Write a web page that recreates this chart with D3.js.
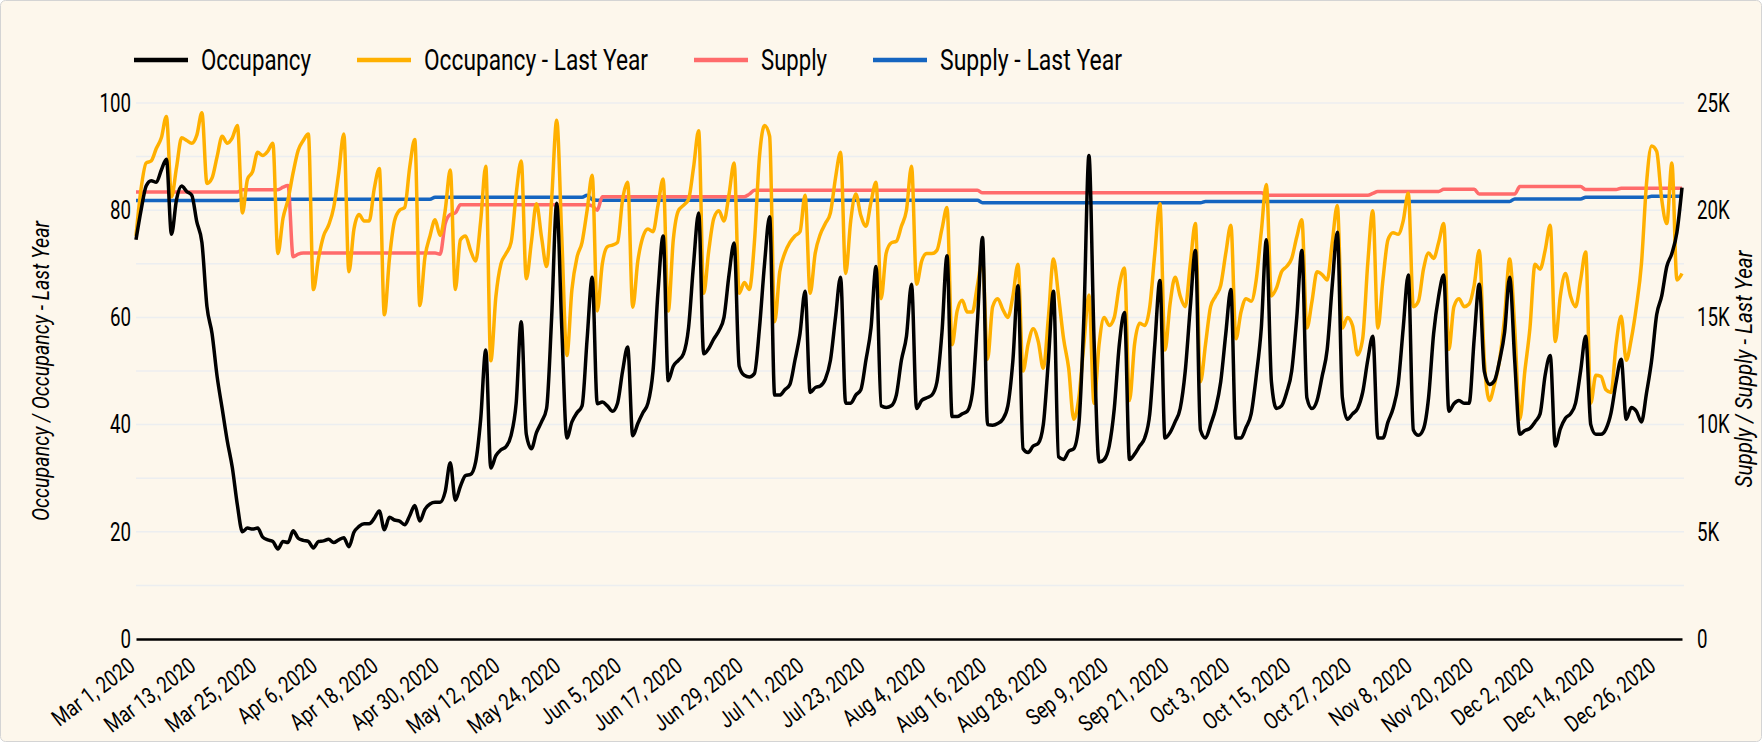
<!DOCTYPE html>
<html>
<head>
<meta charset="utf-8">
<script src="https://cdn.jsdelivr.net/npm/d3@7"></script>
<style>
  body { margin: 0; background: #ffffff; }
  #chart text {
    font-family: Roboto, "Noto Sans", sans-serif;
    fill: #000000;
  }
</style>
</head>
<body>
<div id="chart"></div>
<script>
// Daily values, starting Mar 1, 2020
const startDate = new Date(2020, 2, 1);

// Occupancy (%)
const occupancy = [
  74.5, 80, 84.5, 85.5, 85.2, 87.5, 89.5, 75.5, 82, 84.5,
  83.5, 82.8, 77.8, 74, 62, 57, 49, 43, 37, 32,
  25, 20, 20.7, 20.5, 20.7, 19, 18.5, 18.2, 16.8, 18.2,
  18, 20.2, 18.8, 18.4, 18.2, 17, 18.2, 18.3, 18.6, 18,
  18.5, 18.9, 17.2, 19.9, 21, 21.5, 21.5, 22.5, 23.9, 20.4,
  22.7, 22.2, 22, 21.3, 23, 24.9, 22, 24.2, 25.2, 25.5,
  25.5, 27.5, 32.9, 25.9, 28.5, 30.5, 30.7, 33, 41, 53.9,
  31.9, 34.2, 35.3, 35.9, 38, 44, 59.2, 38.2, 35.5, 38.5,
  40.5, 43, 60, 81.3, 58, 37.5, 40.5, 42.2, 43.5, 56,
  67.5, 43.9, 44.2, 43.5, 42.5, 44, 50, 54.5, 37.9, 40.2,
  42.2, 44, 50, 65, 75.2, 48.2, 50.9, 52, 53.2, 58,
  70, 79.5, 53.2, 54.2, 56, 57.5, 60, 68, 73.9, 50.9,
  49.2, 48.9, 49.5, 58, 70, 78.8, 45.5, 45.5, 46.5, 47.5,
  52, 57, 64.9, 46, 46.9, 47.2, 48.5, 52, 60, 67.5,
  44, 44, 45.5, 46.5, 52, 58, 69.5, 43.5, 43.2, 43.5,
  45.5, 52, 56.5, 66.2, 43, 44.5, 45, 45.5, 47.9, 57.2,
  71.5, 41.5, 41.5, 42, 42.5, 45.9, 59.2, 74.9, 40, 39.9,
  40.2, 41, 43.5, 52, 65.9, 35.5, 34.8, 36, 36.5, 40,
  52, 64.9, 34, 33.5, 35, 35.5, 40, 60, 90.2, 56,
  33, 33.5, 36, 43, 55, 60.9, 33.5, 34.5, 36, 37.5,
  42, 55, 66.9, 37.5, 38.5, 40.5, 43, 50, 62, 72.5,
  39, 37.5, 40, 43, 48, 57, 65.2, 37.5, 37.5, 39.5,
  42, 49, 58, 74.5, 48, 43, 43.5, 46, 50, 60,
  72.5, 45, 43, 44.5, 49, 54, 66, 75.9, 45, 41,
  42, 43, 46, 52, 56.5, 37.5, 37.5, 40.5, 43, 47.5,
  58, 67.9, 39, 38, 39.2, 45, 57, 64, 67.9, 42.5,
  43.9, 44.5, 44, 44, 56, 66.2, 49.9, 47.5, 48.2, 51.9,
  57.2, 67.5, 51.9, 38.2, 38.9, 39.3, 40.5, 42, 49.2, 52.9,
  36, 39.2, 41.2, 42, 44, 50, 56.5, 40, 38.2, 38.2,
  39.2, 42.2, 47.9, 52.2, 41, 43.2, 42.5, 40.5, 45.9, 51.9,
  60.5, 64, 69.5, 71.9, 75.9, 84.2
];

// Occupancy - Last Year (%)
const occupancyLastYear = [
  75.2, 84, 88.8, 89.2, 91.5, 93.5, 97.5, 82.5, 88, 93.5,
  93, 92.5, 94, 98.2, 85, 86, 90, 93.8, 92.5, 93.5,
  95.8, 79.5, 85.8, 87.2, 90.8, 90.2, 91, 92.5, 71.9, 78.5,
  82, 87, 91.2, 93, 94.2, 65.2, 71, 75.2, 77.2, 80.5,
  87, 94.2, 68.5, 76.5, 79.2, 78, 78, 84, 87.8, 60.5,
  71, 78, 80, 80.5, 88, 93.2, 62.2, 71.2, 75.2, 78.2,
  75.3, 80, 87.5, 65.2, 74.5, 75.2, 72.5, 70.5, 78, 88.2,
  51.9, 63.9, 70, 71.9, 74, 83, 89.2, 67.2, 74, 81.2,
  75, 69.5, 82, 96.8, 75, 52.9, 65.2, 71.2, 74, 80,
  86.5, 61.2, 70, 73.2, 73.5, 74, 82, 85.2, 61.9, 70.5,
  75, 76.5, 76, 81, 85.8, 61.2, 74.5, 79.9, 80.9, 82,
  88, 94.8, 64.5, 72.5, 78.5, 79.9, 78, 83, 88.8, 64.5,
  66.5, 65.2, 74, 90, 95.8, 93.8, 59.2, 68.5, 72, 74,
  75.2, 76, 82.8, 64.5, 72, 75.5, 77.5, 79.5, 86, 90.8,
  68.2, 78, 83, 79, 77, 81.5, 85.2, 63.5, 72, 73.9,
  74.2, 77, 80, 88.2, 66.2, 70.5, 71.9, 71.9, 72.5, 76.5,
  80.5, 54.9, 61.2, 63.2, 61, 61, 66, 70.8, 52.2, 62,
  63.5, 61.5, 60, 64, 69.9, 50, 55, 57.9, 55.5, 50.5,
  60, 70.9, 64, 56, 50.5, 41, 45, 55, 64.2, 44,
  55, 60, 58.5, 60, 66, 69.2, 44.5, 55, 58.9, 58.5,
  62, 72, 81.2, 53.9, 62.5, 67.5, 64, 62, 70, 77.5,
  48, 55, 62, 64, 66, 72, 77.2, 56, 61, 63.5,
  63, 67, 76, 84.8, 64, 65.5, 68.5, 69.5, 71, 75,
  78.2, 58, 63, 68.5, 68, 67, 74, 80.9, 58, 60,
  58.5, 53, 56, 70, 79.9, 58, 67, 74.5, 75.8, 75.5,
  78, 83.2, 62, 63, 69, 72, 71, 74, 77.5, 54,
  62, 63.5, 62, 62.5, 66, 72.5, 52, 44.5, 47.5, 52,
  60, 70.9, 58, 41, 50, 58, 69.9, 69, 72.5, 77.2,
  55.5, 64, 68.2, 64, 62, 67, 72.2, 44, 49.2, 49,
  46.5, 46, 55, 60.2, 52, 56, 62, 70, 85, 92,
  91, 82, 77.5, 88.8, 67, 68.2
];

// Supply (rooms)
const supply = [
  20850, 20850, 20850, 20850, 20850, 20850, 20850, 20850, 20850, 20850,
  20850, 20850, 20850, 20850, 20850, 20850, 20850, 20850, 20850, 20850,
  20850, 20950, 20950, 20950, 20950, 20950, 20950, 20950, 20950, 21075,
  21150, 17825, 17950, 18000, 18000, 18000, 18000, 18000, 18000, 18000,
  18000, 18000, 18000, 18000, 18000, 18000, 18000, 18000, 18000, 18000,
  18000, 18000, 18000, 18000, 18000, 18000, 18000, 18000, 18000, 18000,
  17950, 19375, 19800, 19875, 20250, 20250, 20250, 20250, 20250, 20250,
  20250, 20250, 20250, 20250, 20250, 20250, 20250, 20250, 20250, 20250,
  20250, 20250, 20250, 20250, 20250, 20250, 20250, 20250, 20250, 20250,
  20200, 20000, 20625, 20625, 20625, 20625, 20625, 20625, 20625, 20625,
  20625, 20625, 20625, 20625, 20625, 20625, 20625, 20625, 20625, 20625,
  20625, 20625, 20625, 20625, 20625, 20625, 20625, 20625, 20625, 20625,
  20625, 20750, 20925, 20925, 20925, 20925, 20925, 20925, 20925, 20925,
  20925, 20925, 20925, 20925, 20925, 20925, 20925, 20925, 20925, 20925,
  20925, 20925, 20925, 20925, 20925, 20925, 20925, 20925, 20925, 20925,
  20925, 20925, 20925, 20925, 20925, 20925, 20925, 20925, 20925, 20925,
  20925, 20925, 20925, 20925, 20925, 20925, 20925, 20810, 20810, 20810,
  20810, 20810, 20810, 20810, 20810, 20810, 20810, 20810, 20810, 20810,
  20810, 20810, 20810, 20810, 20810, 20810, 20810, 20810, 20810, 20810,
  20810, 20810, 20810, 20810, 20810, 20810, 20810, 20810, 20810, 20810,
  20810, 20810, 20810, 20810, 20810, 20810, 20810, 20810, 20810, 20810,
  20810, 20810, 20810, 20810, 20810, 20810, 20810, 20810, 20810, 20810,
  20810, 20810, 20810, 20700, 20700, 20700, 20700, 20700, 20700, 20700,
  20700, 20700, 20700, 20700, 20700, 20700, 20700, 20700, 20700, 20700,
  20700, 20700, 20700, 20700, 20780, 20875, 20875, 20875, 20875, 20875,
  20875, 20875, 20875, 20875, 20875, 20875, 20875, 20875, 20975, 20975,
  20975, 20975, 20975, 20975, 20975, 20750, 20750, 20750, 20750, 20750,
  20750, 20750, 20750, 21100, 21100, 21100, 21100, 21100, 21100, 21100,
  21100, 21100, 21100, 21100, 21100, 21100, 20960, 20960, 20960, 20960,
  20960, 20960, 20960, 21025, 21025, 21025, 21025, 21025, 21025, 21025,
  21025, 21025, 21025, 21025, 21025, 21025
];

// Supply - Last Year (rooms)
const supplyLastYear = [
  20450, 20450, 20450, 20450, 20450, 20450, 20450, 20450, 20450, 20450,
  20450, 20450, 20450, 20450, 20450, 20450, 20450, 20450, 20450, 20450,
  20450, 20510, 20510, 20510, 20510, 20510, 20510, 20510, 20510, 20510,
  20510, 20510, 20510, 20510, 20510, 20510, 20510, 20510, 20510, 20510,
  20510, 20510, 20510, 20510, 20510, 20510, 20510, 20510, 20510, 20510,
  20510, 20510, 20510, 20510, 20510, 20510, 20510, 20510, 20510, 20600,
  20600, 20600, 20600, 20600, 20600, 20600, 20600, 20600, 20600, 20600,
  20600, 20600, 20600, 20600, 20600, 20600, 20600, 20600, 20600, 20600,
  20600, 20600, 20600, 20600, 20600, 20600, 20600, 20600, 20600, 20700,
  20500, 20460, 20460, 20460, 20460, 20460, 20460, 20460, 20460, 20460,
  20460, 20460, 20460, 20460, 20460, 20460, 20460, 20460, 20460, 20460,
  20460, 20460, 20460, 20460, 20460, 20460, 20460, 20460, 20460, 20460,
  20460, 20460, 20460, 20460, 20460, 20460, 20460, 20460, 20460, 20460,
  20460, 20460, 20460, 20460, 20460, 20460, 20460, 20460, 20460, 20460,
  20460, 20460, 20460, 20460, 20460, 20460, 20460, 20460, 20460, 20460,
  20460, 20460, 20460, 20460, 20460, 20460, 20460, 20460, 20460, 20460,
  20460, 20460, 20460, 20460, 20460, 20460, 20460, 20350, 20350, 20350,
  20350, 20350, 20350, 20350, 20350, 20350, 20350, 20350, 20350, 20350,
  20350, 20350, 20350, 20350, 20350, 20350, 20350, 20350, 20350, 20350,
  20350, 20350, 20350, 20350, 20350, 20350, 20350, 20350, 20350, 20350,
  20350, 20350, 20350, 20350, 20350, 20350, 20350, 20350, 20350, 20350,
  20350, 20410, 20410, 20410, 20410, 20410, 20410, 20410, 20410, 20410,
  20410, 20410, 20410, 20410, 20410, 20410, 20410, 20410, 20410, 20410,
  20410, 20410, 20410, 20410, 20410, 20410, 20410, 20410, 20410, 20410,
  20410, 20410, 20410, 20410, 20410, 20410, 20410, 20410, 20410, 20410,
  20410, 20410, 20410, 20410, 20410, 20410, 20410, 20410, 20410, 20410,
  20410, 20410, 20410, 20410, 20410, 20410, 20410, 20410, 20410, 20410,
  20410, 20410, 20525, 20525, 20525, 20525, 20525, 20525, 20525, 20525,
  20525, 20525, 20525, 20525, 20525, 20525, 20600, 20600, 20600, 20600,
  20600, 20600, 20600, 20600, 20600, 20600, 20600, 20600, 20600, 20650,
  20650, 20650, 20650, 20650, 20650, 20650
];

// Axis tick labels
const xTickLabels = [
  "Mar 1, 2020", "Mar 13, 2020", "Mar 25, 2020", "Apr 6, 2020", "Apr 18, 2020",
  "Apr 30, 2020", "May 12, 2020", "May 24, 2020", "Jun 5, 2020", "Jun 17, 2020",
  "Jun 29, 2020", "Jul 11, 2020", "Jul 23, 2020", "Aug 4, 2020", "Aug 16, 2020",
  "Aug 28, 2020", "Sep 9, 2020", "Sep 21, 2020", "Oct 3, 2020", "Oct 15, 2020",
  "Oct 27, 2020", "Nov 8, 2020", "Nov 20, 2020", "Dec 2, 2020", "Dec 14, 2020",
  "Dec 26, 2020"
];
const leftTicks = [0, 20, 40, 60, 80, 100];
const rightTicks = [0, 5000, 10000, 15000, 20000, 25000];

// Colours
const BACKGROUND = "#fdf7ec";
const GRID_COLOUR = "#eceef0";
// Narrow the installed font towards the condensed face of the original
const SQUEEZE = 0.72;

/**
 * @function getChart
 * @description Daily occupancy and supply against last year
 */
function getChart() {
  const width = 1762;
  const height = 742;
  const margin = { top: 103, right: 78, bottom: 103, left: 136 };
  const plotRight = width - margin.right;
  const plotBottom = height - margin.bottom;

  const dates = occupancy.map((d, i) => d3.timeDay.offset(startDate, i));
  const parseLabel = d3.timeParse("%b %d, %Y");
  const tickDates = xTickLabels.map((d) => parseLabel(d));

  const series = [
    { name: "Occupancy", values: occupancy, axis: "left", colour: "#000000" },
    { name: "Occupancy - Last Year", values: occupancyLastYear, axis: "left", colour: "#ffb000" },
    { name: "Supply", values: supply, axis: "right", colour: "#ff6b6b" },
    { name: "Supply - Last Year", values: supplyLastYear, axis: "right", colour: "#1565c0" },
  ];

  const svg = d3
    .select("#chart")
    .append("svg")
    .attr("width", width)
    .attr("height", height);

  // Card
  svg
    .append("rect")
    .attr("x", 0.5)
    .attr("y", 0.5)
    .attr("width", width - 1)
    .attr("height", height - 1)
    .attr("rx", 5)
    .attr("fill", BACKGROUND)
    .attr("stroke", "#d4d4d4");

  // Scales
  const xScale = d3
    .scaleTime()
    .domain([dates[0], dates[dates.length - 1]])
    .range([margin.left, 1682]);

  const yLeft = d3
    .scaleLinear()
    .domain([0, 100])
    .range([plotBottom, margin.top]);

  const yRight = d3
    .scaleLinear()
    .domain([0, 25000])
    .range([plotBottom, margin.top]);

  // Gridlines
  svg
    .append("g")
    .attr("class", "grid")
    .selectAll("line")
    .data(yLeft.ticks(10).filter((d) => d > 0))
    .enter()
    .append("line")
    .attr("x1", margin.left)
    .attr("x2", plotRight)
    .attr("y1", (d) => yLeft(d))
    .attr("y2", (d) => yLeft(d))
    .attr("stroke", GRID_COLOUR)
    .attr("stroke-width", 1.5);

  // Lines (supply first so occupancy sits on top)
  const drawOrder = [series[3], series[2], series[1], series[0]];
  drawOrder.forEach((s) => {
    const yScale = s.axis === "left" ? yLeft : yRight;
    const line = d3
      .line()
      .x((d, i) => xScale(dates[i]))
      .y((d) => yScale(d))
      .curve(d3.curveMonotoneX);

    svg
      .append("path")
      .datum(s.values)
      .attr("fill", "none")
      .attr("stroke", s.colour)
      .attr("stroke-width", 3.5)
      .attr("stroke-linejoin", "round")
      .attr("d", line);
  });

  // X axis
  const xAxis = svg
    .append("g")
    .attr("transform", `translate(0, ${plotBottom})`)
    .call(
      d3
        .axisBottom(xScale)
        .tickValues(tickDates)
        .tickSize(0)
        .tickFormat((d, i) => xTickLabels[i])
    );

  xAxis.select(".domain").attr("stroke", "#000").attr("stroke-width", 2.5);
  xAxis
    .selectAll("text")
    .attr("x", 0)
    .attr("y", 0)
    .attr("dy", 0)
    .attr("text-anchor", "end")
    .attr("transform", "translate(0, 30) rotate(-37) scale(0.8, 1)")
    .style("font-size", "23px");

  // Left axis
  const leftAxis = svg
    .append("g")
    .attr("transform", `translate(${margin.left}, 0)`)
    .call(d3.axisLeft(yLeft).tickValues(leftTicks).tickSize(0));
  leftAxis.select(".domain").remove();
  leftAxis
    .selectAll("text")
    .attr("x", 0)
    .attr("transform", `translate(-5, 0) scale(${SQUEEZE}, 1)`)
    .style("font-size", "26px");

  // Right axis
  const rightAxis = svg
    .append("g")
    .attr("transform", `translate(${plotRight}, 0)`)
    .call(
      d3
        .axisRight(yRight)
        .tickValues(rightTicks)
        .tickSize(0)
        .tickFormat((d) => (d === 0 ? "0" : d / 1000 + "K"))
    );
  rightAxis.select(".domain").remove();
  rightAxis
    .selectAll("text")
    .attr("x", 0)
    .attr("transform", `translate(13, 0) scale(${SQUEEZE}, 1)`)
    .style("font-size", "26px");

  // Axis titles
  svg
    .append("text")
    .attr("transform", "translate(41, 371) rotate(-90)")
    .attr("text-anchor", "middle")
    .attr("dy", "0.35em")
    .attr("textLength", 300)
    .attr("lengthAdjust", "spacingAndGlyphs")
    .style("font-size", "24px")
    .style("font-style", "italic")
    .text("Occupancy / Occupancy - Last Year");

  svg
    .append("text")
    .attr("transform", "translate(1744, 369) rotate(-90)")
    .attr("text-anchor", "middle")
    .attr("dy", "0.35em")
    .attr("textLength", 237)
    .attr("lengthAdjust", "spacingAndGlyphs")
    .style("font-size", "24px")
    .style("font-style", "italic")
    .text("Supply / Supply - Last Year");

  // Legend
  const legendTextWidths = [110, 224, 66, 182];
  const legend = svg.append("g").attr("class", "legend");
  let lx = 134;
  series.forEach((s, i) => {
    legend
      .append("line")
      .attr("x1", lx)
      .attr("x2", lx + 54)
      .attr("y1", 60)
      .attr("y2", 60)
      .attr("stroke", s.colour)
      .attr("stroke-width", 4.5);

    legend
      .append("text")
      .attr("x", lx + 67)
      .attr("y", 70)
      .attr("textLength", legendTextWidths[i])
      .attr("lengthAdjust", "spacingAndGlyphs")
      .style("font-size", "29px")
      .text(s.name);

    lx += 67 + legendTextWidths[i] + 46;
  });
}

getChart();
</script>
</body>
</html>
